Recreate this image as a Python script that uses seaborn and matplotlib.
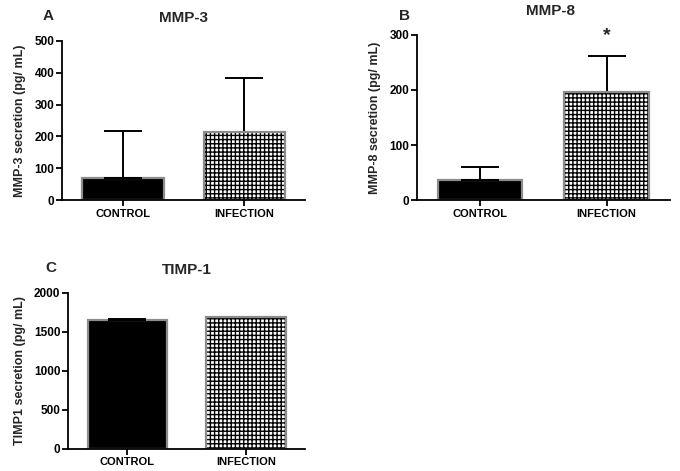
import matplotlib
matplotlib.use("Agg")
import matplotlib.pyplot as plt
from matplotlib.patches import Rectangle
import seaborn as sns

groups = ["CONTROL", "INFECTION"]

mmp3_mean = [70, 215]
mmp3_err = [148, 170]

mmp8_mean = [37, 197]
mmp8_err = [23, 65]

timp1_mean = [1650, 1690]
timp1_err = [15, 0]

sns.set_style("ticks")
plt.rcParams['font.family'] = ['Liberation Sans', 'DejaVu Sans']
plt.rcParams['hatch.linewidth'] = 1.0
plt.rcParams['hatch.color'] = 'black'

fig = plt.figure(figsize=(6.8, 4.71), dpi=100)
ax_a = fig.add_axes([0.091, 0.575, 0.358, 0.338])
ax_b = fig.add_axes([0.613, 0.575, 0.372, 0.351])
ax_c = fig.add_axes([0.100, 0.047, 0.349, 0.331])


def draw_panel(ax, means, errs, title, ylabel, ymax, step, title_x=0.5):
    sns.barplot(x=groups, y=means, hue=groups, palette=["black", "white"],
                legend=False, width=0.67, edgecolor="#8c8c8c", linewidth=1.6,
                ax=ax)
    # checkered bar: black hatch, then a grey outline on top
    bar = ax.patches[1]
    bar.set_edgecolor("black")
    bar.set_linewidth(0)
    bar.set_hatch("++++")
    ax.add_patch(Rectangle(bar.get_xy(), bar.get_width(), bar.get_height(),
                           fill=False, edgecolor="#8c8c8c", linewidth=1.6,
                           zorder=bar.get_zorder() + 0.1))
    ax.errorbar(x=range(len(groups)), y=means, yerr=[[0] * len(errs), errs],
                fmt="none", ecolor="black", elinewidth=1.4, capsize=14,
                capthick=1.4, zorder=1)
    ax.set_xlim(-0.5, 1.5)
    ax.set_ylim(0, ymax)
    ax.set_yticks(range(0, ymax + 1, step))
    ax.set_title(title, fontsize=11, fontweight="bold", pad=14, x=title_x)
    ax.set_ylabel(ylabel, fontsize=9, fontweight="bold", labelpad=6)
    for lab in ax.get_yticklabels() + ax.get_xticklabels():
        lab.set_fontweight("bold")
    ax.tick_params(axis="y", labelsize=8.5, pad=1.5)
    ax.tick_params(axis="x", labelsize=8, pad=2)
    ax.tick_params(axis="both", width=1.3, length=4, color="black",
                   labelcolor="black")
    for side in ["left", "bottom"]:
        ax.spines[side].set_linewidth(1.3)
        ax.spines[side].set_color("black")
    sns.despine(ax=ax)


draw_panel(ax_a, mmp3_mean, mmp3_err, "MMP-3", "MMP-3 secretion (pg/ mL)", 500, 100)
draw_panel(ax_b, mmp8_mean, mmp8_err, "MMP-8", "MMP-8 secretion (pg/ mL)", 300, 100, 0.53)
draw_panel(ax_c, timp1_mean, timp1_err, "TIMP-1", "TIMP1 secretion (pg/ mL)", 2000, 500)

# significance marker
ax_b.text(1, 298, "*", ha="center", va="center", fontsize=14, fontweight="bold")

fig.text(0.063, 0.966, "A", fontsize=11, fontweight="bold", va="center")
fig.text(0.587, 0.966, "B", fontsize=11, fontweight="bold", va="center")
fig.text(0.066, 0.430, "C", fontsize=11, fontweight="bold", va="center")

plt.savefig("out.png", dpi=100)
